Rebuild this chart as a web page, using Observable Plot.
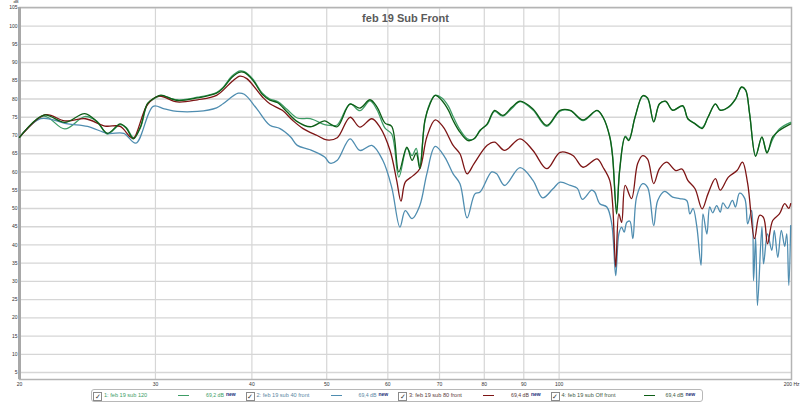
<!DOCTYPE html>
<html>
<head>
<meta charset="utf-8">
<script src="https://cdn.jsdelivr.net/npm/d3@7"></script>
<script src="https://cdn.jsdelivr.net/npm/@observablehq/plot@0.6"></script>
<style>
  html, body { margin: 0; padding: 0; background: #fff; }
  #wrap { position: relative; width: 800px; height: 403px; overflow: hidden; font-family: "Liberation Sans", Arial, sans-serif; }
  #legend { position: absolute; left: 91px; top: 389px; width: 610px; height: 11px; border: 1px solid #b8b8b8; border-radius: 3px; background: #fff; }
  .item { position: absolute; top: 0; height: 11px; font-size: 5.6px; line-height: 11px; white-space: nowrap; }
  .cb { position: absolute; top: 1.5px; width: 7px; height: 7px; border: 1px solid #8a8a8a; background: #fff; font-size: 7px; line-height: 7px; text-align: center; color: #333; }
  .lab { position: absolute; top: 0; }
  .smp { position: absolute; top: 5px; width: 11px; height: 0; border-top: 1.3px solid; }
  .val { position: absolute; top: 0; font-size: 5.2px; }
  .new { position: absolute; top: -1px; font-weight: bold; color: #1c2f7a; font-size: 5px; }
</style>
</head>
<body>
<div id="wrap"></div>
<script>
// ---- data ----
const title = "feb 19 Sub Front";
const yTicks = [5, 10, 15, 20, 25, 30, 35, 40, 45, 50, 55, 60, 65, 70, 75, 80, 85, 90, 95, 100, 105];
const xTicks = [20, 30, 40, 50, 60, 70, 80, 90, 100];
const xGrid = [30, 40, 50, 60, 70, 80, 90, 100];
const lastTickLabel = "200 Hz";

const seriesNames = ["feb 19 sub 120", "feb 19 sub 40 front", "feb 19 sub 80 front", "feb 19 sub Off front"];
const legendLabels = ["1: feb 19 sub 120", "2: feb 19 sub 40 front", "3: feb 19 sub 80 front", "4: feb 19 sub Off front"];
const legendValues = ["69,2 dB", "69,4 dB", "69,4 dB", "69,4 dB"];
const seriesColors = ["#3e9d66", "#4f8db0", "#7d1515", "#0d5e16"];
const legendTextColors = ["#3e9d66", "#5b87a3", "#5a3a3a", "#3f5a3f"];

// series 1: sub 120 (light green) and series 4: sub Off (dark green) share frequencies
const freqGreen = [20, 21.5, 22.9, 24.3, 25.2, 26.0, 27.0, 27.5, 28.1, 28.7,
  29.3, 30, 30.5, 32, 34, 36, 36.7, 37.7, 38.6, 39.1,
  40.1, 41.3, 42.2, 43.2, 44.4, 45.8, 47.6, 49.7, 50.5, 51.6,
  53.6, 55.2, 56.9, 58.1, 59.5, 60.7, 62.0, 63.5, 64.5, 65.3,
  66.0, 67.0, 68.0, 69.1, 70.5, 71.9, 72.9, 74.4, 76.2, 77.6,
  79, 80.7, 82.5, 84.5, 86.9, 89, 92.5, 96.4, 100.3, 103.4,
  107.4, 112, 114, 116.3, 117.3, 118.7, 119.8, 121.8, 123.1, 125.4,
  128.3, 130.2, 132.6, 134.9, 137.4, 140.3, 144.6, 146.8, 150, 153.2,
  155.9, 159.4, 161.7, 165.7, 169.2, 172.3, 174.4, 176.5, 179.7, 183.1,
  185.9, 189.1, 192.9, 199.5];
const dbSub120 = [69.5, 75.3, 71.8, 75.2, 73.9, 70.4, 73.0, 72.2, 69.4, 72.2,
  78.6, 80.3, 80.9, 79.8, 80.5, 81.8, 83.2, 86.3, 87.7, 87.5,
  85.5, 81.5, 80.0, 79.3, 77.2, 74.8, 74.6, 73.0, 72.8, 72.9,
  78.7, 76.8, 79.5, 77.0, 72.0, 70.4, 58.6, 66.5, 64.5, 66.5,
  61.5, 73.8, 78.8, 81.0, 80.3, 78.0, 75.2, 71.6, 69.0, 69.1,
  71.5, 73.0, 76.6, 75.3, 77.5, 79.3, 77.0, 72.5, 76.7, 76.8,
  74.1, 76.8, 75.0, 69.8, 64.5, 49.5, 60.8, 69.8, 68.9, 74.9,
  80.8, 80.1, 73.9, 78.6, 79.3, 77.0, 78.0, 74.6, 73.3, 72.2,
  75.0, 78.6, 77.0, 77.7, 79.9, 83.2, 82.4, 76.0, 64.5, 69.5,
  65.5, 69.0, 71.8, 73.6];
const dbSubOff = [69.5, 75.6, 73.6, 76.0, 73.8, 70.6, 73.2, 72.0, 69.1, 72.5,
  78.8, 80.5, 81.1, 79.6, 80.3, 81.6, 83.0, 86.0, 87.4, 87.3,
  85.2, 81.2, 79.7, 79.0, 76.5, 73.8, 72.4, 74.0, 73.2, 72.4,
  78.6, 77.5, 79.8, 77.8, 73.4, 72.5, 60.0, 66.8, 63.2, 65.2,
  60.9, 74.1, 78.5, 81.0, 79.6, 76.9, 74.1, 70.9, 68.6, 69.1,
  71.3, 73.2, 76.9, 75.5, 77.8, 79.4, 77.3, 72.8, 76.9, 76.9,
  74.3, 76.9, 75.0, 69.6, 64.1, 48.5, 60.4, 69.6, 68.6, 75.0,
  80.9, 80.3, 73.7, 78.7, 79.4, 76.9, 78.2, 74.6, 73.2, 71.9,
  75.0, 78.7, 76.9, 77.8, 80.0, 83.3, 82.5, 76.0, 64.3, 69.6,
  65.2, 69.6, 71.4, 73.2];

// series 3: sub 80 (dark red)
const freqSub80 = [20, 21.6, 22.9, 24.35, 25.8, 27.0, 27.8, 28.1, 29.3, 30.3,
  32, 34, 36, 37.7, 38.6, 39.4, 41.3, 42.2, 43.8, 45.2,
  46.6, 48.6, 50, 51.6, 53.6, 55.2, 57.2, 58.6, 60.4, 61.6,
  62.4, 63.2, 64.7, 66.0, 67.4, 69.1, 70.8, 72.9, 74.4, 76.0,
  77.6, 80.7, 82.5, 85, 89, 92.5, 96.4, 100.3, 104.2, 107.4,
  112, 114, 116.3, 117.3, 118.4, 119.5, 120.5, 121.8, 124.1, 126.4,
  128.3, 130.2, 132.6, 134.9, 137.8, 141.6, 144.3, 146.8, 150, 153.2,
  155.9, 159.4, 161.7, 165.7, 170, 172.8, 175.5, 179.1, 181.8, 184,
  186.2, 189.1, 192.9, 196, 198.4, 199.5];
const dbSub80 = [69.5, 75.7, 74.0, 74.6, 72.6, 72.5, 69.7, 69.2, 78.5, 80.8,
  79.2, 79.8, 81.0, 84.8, 86.3, 85.6, 80.5, 78.7, 76.9, 74.1,
  71.9, 70.0, 68.8, 69.4, 75.0, 72.3, 74.6, 72.3, 65.9, 57.7,
  52.0, 57.2, 59.0, 60.9, 69.6, 74.3, 72.3, 67.3, 65.0, 59.5,
  62.3, 67.3, 68.2, 65.9, 69.1, 65.9, 60.9, 65.4, 64.5, 61.3,
  63.6, 61.3, 57.7, 51.3, 33.9, 48.5, 46.2, 56.3, 52.7, 62.3,
  64.5, 63.5, 56.8, 60.9, 62.7, 60.4, 60.8, 57.7, 55.4, 49.9,
  54.0, 58.2, 55.0, 58.6, 60.4, 62.7, 56.8, 41.7, 48.1, 47.5,
  40.3, 46.7, 48.5, 51.3, 50.0, 51.3];

// series 2: sub 40 (steel blue)
const freqSub40 = [20, 21.3, 23.1, 24.5, 26.0, 27.3, 28.3, 29.8, 30.8, 32,
  34, 36, 36.7, 38.4, 39.1, 40.6, 42.2, 43.5, 44.9, 45.8,
  47.6, 49.7, 50.5, 51.6, 53.6, 55.2, 57.2, 59.1, 60.7, 62.2,
  63.2, 64.5, 66, 67.4, 69.1, 71.1, 72.9, 74.4, 76, 77.8,
  79, 81.8, 83, 85, 89, 92.5, 95.2, 98.2, 100.3, 103.4,
  105.6, 107.2, 110.2, 111.2, 112.9, 115.3, 117, 118.4, 119.5, 120.5,
  121.4, 122.4, 123.5, 124.6, 126, 128.3, 130.2, 132.6, 134.2, 137,
  140.3, 143.3, 146.3, 147.7, 149.1, 150.8, 152.7, 153.6, 155.4, 156.7,
  158.1, 160, 161.7, 163, 165.2, 167.7, 169.2, 171.3, 174, 175.5,
  177.6, 178.6, 179.7, 180.7, 183.1, 184, 186.2, 188.6, 190, 192,
  194, 196, 197.2, 198.4, 199.5];
const dbSub40 = [69.5, 74.6, 73.2, 72.5, 70.6, 70.6, 67.9, 78.0, 77.3, 76.6,
  76.6, 77.6, 78.7, 81.6, 81.3, 77.3, 72.8, 71.9, 69.6, 67.3,
  66.1, 64.1, 62.4, 63.2, 69.1, 65.9, 67.3, 63.2, 55.8, 44.9,
  49.4, 47.2, 50.8, 59.5, 67.0, 64.1, 59.5, 56.8, 47.4, 54.0,
  54.5, 60.0, 59.5, 56.3, 61.2, 57.7, 52.9, 55.4, 57.2, 56.3,
  55.5, 52.5, 55.0, 54.5, 51.3, 50.4, 45.8, 31.6, 43.0, 44.9,
  43.5, 46.2, 46.5, 41.7, 53.1, 56.8, 55.8, 45.3, 52.2, 54.7,
  53.1, 52.7, 52.2, 48.5, 50.0, 45.0, 34.4, 48.5, 43.0, 50.4,
  48.8, 50.8, 49.0, 51.5, 50.0, 52.2, 50.4, 54.2, 52.7, 45.8,
  49.5, 30.2, 42.0, 23.4, 45.0, 34.8, 43.0, 38.5, 44.0, 36.6,
  44.0, 39.6, 43.0, 28.9, 45.3];

// ---- build rows ----
const seriesFreqs = [freqGreen, freqSub40, freqSub80, freqGreen];
const seriesDb = [dbSub120, dbSub40, dbSub80, dbSubOff];
const rows = [];
seriesNames.forEach((name, i) => {
  seriesFreqs[i].forEach((f, j) => rows.push({series: name, freq: f, db: seriesDb[i][j]}));
});

const chart = Plot.plot({
  width: 800,
  height: 403,
  marginLeft: 19,
  marginRight: 9,
  marginTop: 7,
  marginBottom: 24,
  style: {fontFamily: "Liberation Sans, Arial, sans-serif", background: "#fff", overflow: "visible"},
  x: {type: "log", domain: [20, 200]},
  y: {domain: [3.1, 105.1]},
  color: {domain: seriesNames, range: seriesColors},
  marks: [
    Plot.gridY(yTicks, {stroke: "#d6d6d6", strokeOpacity: 1, strokeWidth: 1.4}),
    Plot.gridX(xGrid, {stroke: "#d6d6d6", strokeOpacity: 1, strokeWidth: 1.2}),
    Plot.frame({stroke: "#b4b4b4", strokeWidth: 1.5}),
    Plot.ruleX([20], {stroke: "#a8a8a8", strokeWidth: 3}),
    Plot.axisY(yTicks, {tickSize: 0, tickPadding: 2, fontSize: 5, fill: "#333", label: null}),
    Plot.axisX(xTicks, {tickSize: 0, tickPadding: 3, fontSize: 5, fill: "#333", label: null, tickFormat: d => String(d)}),
    Plot.text([lastTickLabel], {x: 200, frameAnchor: "bottom", dy: 6, dx: 8, textAnchor: "end", fontSize: 5, fill: "#333"}),
    Plot.text(["dB"], {frameAnchor: "top-left", dx: -6, dy: -7, lineAnchor: "top", fontSize: 4.2, fill: "#333"}),
    Plot.line(rows, {x: "freq", y: "db", z: "series", stroke: "series", strokeWidth: 1.3, curve: "catmull-rom"}),
    Plot.text([title], {frameAnchor: "top", dy: 7, fontSize: 11, fontWeight: "bold", fill: "#5a5a5a"})
  ]
});

const wrap = document.getElementById("wrap");
wrap.appendChild(chart);

// ---- legend ----
const legend = document.createElement("div");
legend.id = "legend";
legendLabels.forEach((lab, i) => {
  const it = document.createElement("div");
  it.className = "item";
  it.style.left = (1 + i * 152.5) + "px";
  it.style.width = "150px";
  it.innerHTML =
    `<div class="cb" style="left:0">&#10003;</div>` +
    `<div class="lab" style="left:11px;color:${legendTextColors[i]}">${lab}</div>` +
    `<div class="smp" style="left:${85 + (i === 3 ? 8 : 0)}px;border-color:${seriesColors[i]}"></div>` +
    `<div class="val" style="left:${113 + (i === 3 ? 2 : 0)}px;color:${legendTextColors[i]}">${legendValues[i]}</div>` +
    `<div class="new" style="left:${133 + (i === 3 ? 2 : 0)}px">new</div>`;
  legend.appendChild(it);
});
wrap.appendChild(legend);
</script>
</body>
</html>
